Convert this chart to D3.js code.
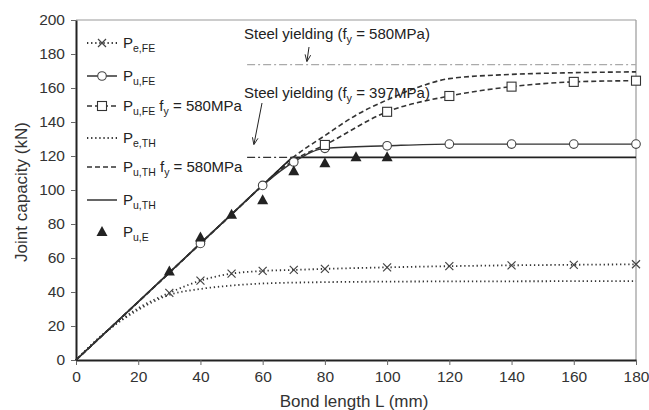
<html>
<script src="https://cdnjs.cloudflare.com/ajax/libs/d3/7.8.5/d3.min.js"></script>
<body style="margin:0;background:white">
<div id="graph"></div>
</body>
<script>
// series values (bond length mm, capacity kN)
var peFE = [[0,0],[10,17.1],[20,30.5],[30,39.5],[40,46.7],[50,50.8],[60,52.4],[70,53],[80,53.6],[100,54.5],[120,55.2],[140,55.7],[160,56],[180,56.3]];
var peFEmarks = [30,40,50,60,70,80,100,120,140,160,180];
var puFE = [[0,0],[10,17],[20,34.1],[30,51.3],[40,68.6],[50,85.6],[60,102.7],[70,116.5],[80,124.5],[100,126],[120,127],[140,127],[160,127],[180,127]];
var puFEmarks = [40,60,70,80,100,120,140,160,180];
var puFE580 = [[0,0],[10,17],[20,34.1],[30,51.3],[40,68.6],[50,85.6],[60,102.7],[70,117.5],[80,126.5],[100,146],[120,155.3],[140,160.8],[160,163.6],[180,164.3]];
var puFE580marks = [80,100,120,140,160,180];
var peTH = [[0,0],[10,17.1],[20,29.5],[30,38.3],[40,41.8],[50,43.8],[60,45],[80,45.8],[100,46.1],[140,46.3],[180,46.4]];
var puTH580 = [[0,0],[10,17.1],[20,34.2],[30,51.3],[40,68.5],[50,85.6],[60,102.8],[70,119.5],[80,132],[90,144],[100,153],[110,160.5],[120,165.5],[140,168],[160,169],[180,169.5]];
var puTH = [[0,0],[69.5,119.2],[180,119.2]];
var puE = [[30,52],[40,72],[50,85.5],[60,94],[70,111],[80,115.7],[90,119.2],[100,119.2]];
var yield580 = [[55,173.7],[180,173.7]];
var yield397 = [[55,119.2],[70,119.2]];
var xTicks = [0,20,40,60,80,100,120,140,160,180];
var yTicks = [0,20,40,60,80,100,120,140,160,180,200];

var W = 649, H = 410;
var svg = d3.select("#graph").append("svg").attr("width", W).attr("height", H)
    .style("font-family", "Liberation Sans, Arial, sans-serif");

var X = d3.scaleLinear().domain([0,180]).range([76,636]);
var Y = d3.scaleLinear().domain([0,200]).range([360,20]);

// frame
svg.append("line").attr("x1",X(0)).attr("x2",X(180)).attr("y1",Y(200)).attr("y2",Y(200)).style("stroke","#999").style("stroke-width",1.2);
svg.append("line").attr("x1",X(180)).attr("x2",X(180)).attr("y1",Y(200)).attr("y2",Y(0)).style("stroke","#999").style("stroke-width",1.2);

var xAxis = svg.append("g").attr("transform","translate(0,"+Y(0)+")")
    .call(d3.axisBottom(X).tickValues(xTicks).tickSize(5).tickSizeOuter(0).tickPadding(6));
var yAxis = svg.append("g").attr("transform","translate("+X(0)+",0)")
    .call(d3.axisLeft(Y).tickValues(yTicks).tickSize(5).tickSizeOuter(0).tickPadding(6));
[xAxis, yAxis].forEach(function(a) {
    a.select(".domain").style("stroke","#222").style("stroke-width",2);
    a.selectAll(".tick line").style("stroke","#666");
    a.selectAll("text").style("font-size","15.5px").style("fill","#333").style("font-family","Liberation Sans, Arial, sans-serif");
});

svg.append("text").attr("x",354).attr("y",407).attr("text-anchor","middle")
    .style("font-size","17px").style("fill","#333").text("Bond length L (mm)");
svg.append("text").attr("transform","translate(27,192) rotate(-90)").attr("text-anchor","middle")
    .style("font-size","17px").style("fill","#333").text("Joint capacity (kN)");

var line = d3.line().x(function(d){return X(d[0]);}).y(function(d){return Y(d[1]);}).curve(d3.curveMonotoneX);
var straight = d3.line().x(function(d){return X(d[0]);}).y(function(d){return Y(d[1]);});

var DOT = "1.3,2.8", DASH = "5,3", DASHDOT = "8,3,2,3";
function drawLine(data, dash, color, w, gen) {
    svg.append("path").datum(data).attr("d", gen || line).style("fill","none")
        .style("stroke", color || "#222").style("stroke-width", w || 1.6)
        .style("stroke-dasharray", dash || null);
}
drawLine(yield580, DASHDOT, "#aaa", 1.3, straight);
drawLine(yield397, DASHDOT, "#333", 1.3, straight);
drawLine(peTH, DOT, "#333", 1.8);
drawLine(peFE, DOT, "#333", 1.8);
drawLine(puTH580, DASH, "#333", 1.6);
drawLine(puFE580, DASH, "#333", 1.6);
drawLine(puTH, null, "#222", 1.6, straight);
drawLine(puFE, null, "#333", 1.4);

function lookup(data, x) { return data.filter(function(d){return d[0]===x;})[0]; }

function cross(g, x, y) {
    g.append("path").attr("d","M"+(x-4)+","+(y-4)+"L"+(x+4)+","+(y+4)+"M"+(x-4)+","+(y+4)+"L"+(x+4)+","+(y-4))
        .style("stroke","#444").style("stroke-width",1.2);
}
function circ(g, x, y) {
    g.append("circle").attr("cx",x).attr("cy",y).attr("r",4.3).style("fill","white").style("stroke","#444").style("stroke-width",1.1);
}
function sq(g, x, y) {
    g.append("rect").attr("x",x-4.5).attr("y",y-4.5).attr("width",9).attr("height",9).style("fill","white").style("stroke","#333").style("stroke-width",1.1);
}
function tri(g, x, y) {
    g.append("path").attr("d","M"+x+","+(y-6)+"L"+(x+5.5)+","+(y+4)+"L"+(x-5.5)+","+(y+4)+"Z").style("fill","#222");
}

peFEmarks.forEach(function(x){ var d = lookup(peFE,x); cross(svg, X(d[0]), Y(d[1])); });
puFEmarks.forEach(function(x){ var d = lookup(puFE,x); circ(svg, X(d[0]), Y(d[1])); });
puFE580marks.forEach(function(x){ var d = lookup(puFE580,x); sq(svg, X(d[0]), Y(d[1])); });
puE.forEach(function(d){ tri(svg, X(d[0]), Y(d[1])); });

// annotations
function subText(x, y, parts, size) {
    var t = svg.append("text").attr("x",x).attr("y",y).style("font-size",size+"px").style("fill","#222");
    parts.forEach(function(p) {
        if (p[1]) t.append("tspan").attr("dy", 4).style("font-size",(size*0.72)+"px").text(p[0]);
        else t.append("tspan").attr("dy", p[2] || 0).text(p[0]);
    });
    return t;
}
subText(244, 39, [["Steel yielding (f"],["y",1],[" = 580MPa)",0,-4]], 15);
subText(244, 98, [["Steel yielding (f"],["y",1],[" = 397MPa)",0,-4]], 15);

svg.append("defs").append("marker").attr("id","arr").attr("viewBox","0 0 10 10").attr("refX",9).attr("refY",5)
    .attr("markerWidth",7).attr("markerHeight",7).attr("orient","auto")
    .append("path").attr("d","M0,1L10,5L0,9").style("fill","none").style("stroke","#222").style("stroke-width",1.3);
svg.append("line").attr("x1",309).attr("y1",47).attr("x2",307).attr("y2",61).style("stroke","#222").attr("marker-end","url(#arr)");
svg.append("line").attr("x1",262).attr("y1",103).attr("x2",254).attr("y2",144).style("stroke","#222").attr("marker-end","url(#arr)");

// legend
var legend = [
    {main:"P", sub:"e,FE", dash:DOT, mark:cross},
    {main:"P", sub:"u,FE", dash:null, mark:circ},
    {main:"P", sub:"u,FE", tail:" f", tsub:"y", tail2:" = 580MPa", dash:DASH, mark:sq},
    {main:"P", sub:"e,TH", dash:DOT, mark:null},
    {main:"P", sub:"u,TH", tail:" f", tsub:"y", tail2:" = 580MPa", dash:DASH, mark:null},
    {main:"P", sub:"u,TH", dash:null, mark:null},
    {main:"P", sub:"u,E", dash:"none", mark:tri}
];
var legY = [43, 76, 106, 138, 167, 200, 232];
legend.forEach(function(e, i) {
    var y = legY[i];
    if (e.dash !== "none") {
        svg.append("line").attr("x1",87).attr("x2",117).attr("y1",y).attr("y2",y)
            .style("stroke","#333").style("stroke-width", e.dash === DOT ? 1.8 : 1.5).style("stroke-dasharray", e.dash);
    }
    if (e.mark) e.mark(svg, 102, y);
    var t = svg.append("text").attr("x",123).attr("y",y+5).style("font-size","15px").style("fill","#222");
    t.append("tspan").text(e.main);
    t.append("tspan").attr("dy",4).style("font-size","10.5px").text(e.sub);
    if (e.tsub) {
        t.append("tspan").attr("dy",-4).text(e.tail);
        t.append("tspan").attr("dy",4).style("font-size","10.5px").text(e.tsub);
        t.append("tspan").attr("dy",-4).text(e.tail2);
    }
});
</script>
</html>
